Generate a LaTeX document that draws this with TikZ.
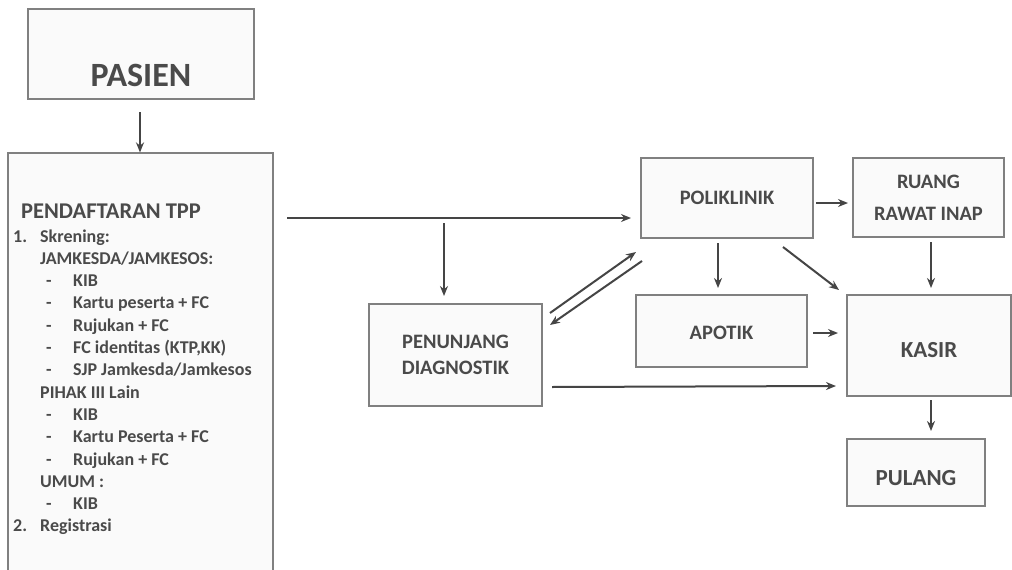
\documentclass[tikz,border=0pt]{standalone}
\usepackage{fontspec}
\setmainfont{Carlito}
\usetikzlibrary{arrows.meta}
\definecolor{boxline}{HTML}{808080}
\definecolor{boxfill}{HTML}{FAFAFA}
\definecolor{txt}{HTML}{4A4A4A}
\definecolor{arr}{HTML}{454545}
\begin{document}
\begin{tikzpicture}[x=1pt,y=-1pt,
  box/.style={draw=boxline, line width=1.2pt, fill=boxfill, inner sep=0pt,
    text=txt, font=\fontsize{20.5}{24}\selectfont\bfseries, align=center},
  conn/.style={draw=arr, line width=2pt, -{Stealth[length=10pt,width=8pt]}}]
\useasboundingbox (0,0) rectangle (1012,570);
\fill[white] (0,0) rectangle (1012,570);
% boxes
\node[box, minimum width=226pt, minimum height=90pt, text height=65pt, text depth=0pt,
  font=\fontsize{34}{40}\selectfont\bfseries] (pasien) at (141,54) {PASIEN};
\node[box, minimum width=265pt, minimum height=427pt] (pend) at (140.5,366.5) {};
\node[box, minimum width=172pt, minimum height=80pt] (poli) at (727,198) {POLIKLINIK};
\node[box, minimum width=151pt, minimum height=79pt] (ruang) at (928.5,197.5) {RUANG\\[8pt]RAWAT INAP};
\node[box, minimum width=171pt, minimum height=72pt, text height=17pt, text depth=0pt] (apotik) at (721.5,331) {APOTIK};
\node[box, minimum width=164pt, minimum height=101pt, text height=24pt, text depth=0pt,
  font=\fontsize{23}{27}\selectfont\bfseries] (kasir) at (929,345.5) {KASIR};
\node[box, minimum width=173pt, minimum height=102pt] (penunjang) at (455.5,355) {PENUNJANG\\[2pt]DIAGNOSTIK};
\node[box, minimum width=138pt, minimum height=67pt, text height=26pt, text depth=0pt,
  font=\fontsize{23}{27}\selectfont\bfseries] (pulang) at (916,472.5) {PULANG};
% text of registration box
\node[anchor=north west, inner sep=0pt, text=txt, align=left,
  font=\fontsize{18}{22.3}\selectfont\bfseries] (pendtext) at (13,204)
{\hspace*{8pt}{\fontsize{22.5}{22.3}\selectfont PENDAFTARAN TPP}\\[1pt]
\makebox[27pt][l]{1.}Skrening:\\
\hspace*{27pt}JAMKESDA/JAMKESOS:\\
\hspace*{33pt}\makebox[27pt][l]{-}KIB\\
\hspace*{33pt}\makebox[27pt][l]{-}Kartu peserta + FC\\
\hspace*{33pt}\makebox[27pt][l]{-}Rujukan + FC\\
\hspace*{33pt}\makebox[27pt][l]{-}FC identitas (KTP,KK)\\
\hspace*{33pt}\makebox[27pt][l]{-}SJP Jamkesda/Jamkesos\\
\hspace*{27pt}PIHAK III Lain\\
\hspace*{33pt}\makebox[27pt][l]{-}KIB\\
\hspace*{33pt}\makebox[27pt][l]{-}Kartu Peserta + FC\\
\hspace*{33pt}\makebox[27pt][l]{-}Rujukan + FC\\
\hspace*{27pt}UMUM :\\
\hspace*{33pt}\makebox[27pt][l]{-}KIB\\
\makebox[27pt][l]{2.}Registrasi};
% coordinates for connector ends
\coordinate (pasA) at (140,112);
\coordinate (hstart) at (287,218);
\coordinate (hend) at (631,218);
\coordinate (vtop) at (444,223);
\coordinate (vbot) at (444,296);
\coordinate (upA) at (550,313);
\coordinate (upB) at (636,252);
\coordinate (dnA) at (642,261);
\coordinate (dnB) at (550,325);
\coordinate (botA) at (552,387);
\coordinate (botB) at (836,386);
\coordinate (prA) at (816,203);
\coordinate (prB) at (848,203);
\coordinate (paA) at (718,243);
\coordinate (paB) at (718,288);
\coordinate (pkA) at (783,247);
\coordinate (pkB) at (839,290);
\coordinate (rkA) at (931,242);
\coordinate (rkB) at (931,288);
\coordinate (akA) at (813,333);
\coordinate (akB) at (838,333);
\coordinate (kpA) at (931,400);
\coordinate (kpB) at (931,431);
% connectors
\draw[conn] (pasA) -- (pend.north -| pasA);
\draw[conn] (hstart) -- (hend);
\draw[conn] (vtop) -- (vbot);
\draw[conn] (upA) -- (upB);
\draw[conn] (dnA) -- (dnB);
\draw[conn] (botA) -- (botB);
\draw[conn] (prA) -- (prB);
\draw[conn] (paA) -- (paB);
\draw[conn] (pkA) -- (pkB);
\draw[conn] (rkA) -- (rkB);
\draw[conn] (akA) -- (akB);
\draw[conn] (kpA) -- (kpB);
\end{tikzpicture}
\end{document}
